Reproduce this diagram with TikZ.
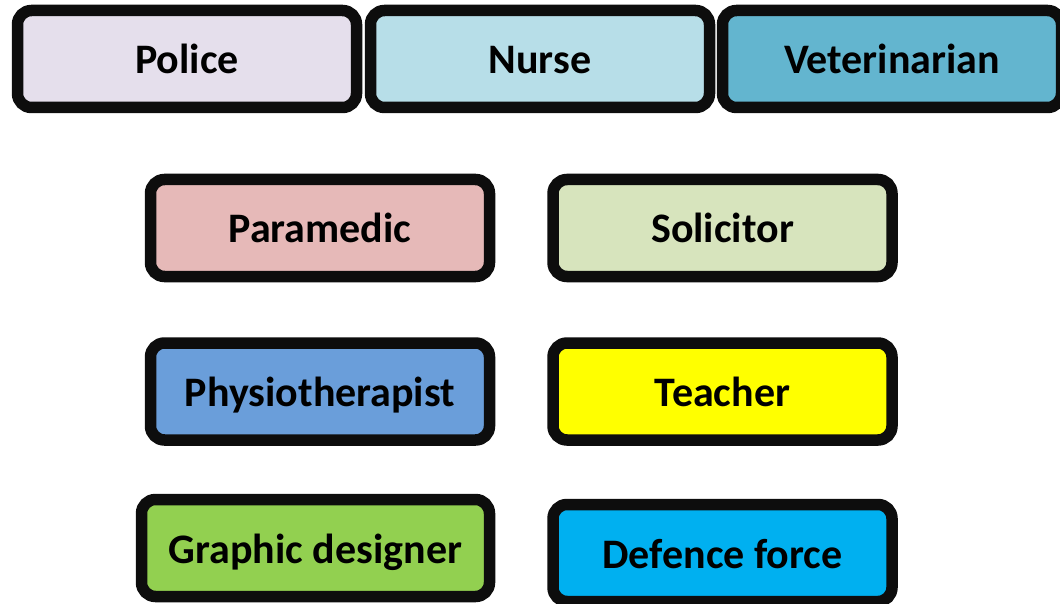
\documentclass[tikz,border=0pt]{standalone}
\usepackage{fontspec}
\setmainfont{Carlito}
\definecolor{cPolice}{HTML}{E5DFEC}
\definecolor{cNurse}{HTML}{B7DEE8}
\definecolor{cVet}{HTML}{63B5CF}
\definecolor{cPara}{HTML}{E6B9B8}
\definecolor{cSol}{HTML}{D7E4BD}
\definecolor{cPhys}{HTML}{6A9EDA}
\definecolor{cTeach}{HTML}{FFFF00}
\definecolor{cGraph}{HTML}{92D050}
\definecolor{cDef}{HTML}{00B0F0}
\definecolor{cEdge}{HTML}{0D0D0D}
\begin{document}
\begin{tikzpicture}[x=1pt,y=-1pt,
  job/.style={draw=cEdge, line width=11.5pt, rounded corners=14pt,
    minimum width=339pt, minimum height=97pt, inner sep=0pt,
    text height=30pt, text depth=0pt,
    font=\fontsize{42}{50}\selectfont\bfseries, text=black}]
\useasboundingbox (0,0) rectangle (1060,604);
\clip (0,0) rectangle (1060,604);
\node[job, fill=cPolice] (police) at (187,59) {Police};
\node[job, fill=cNurse] (nurse) at (540,59) {Nurse};
\node[job, fill=cVet] (vet) at (892,59) {Veterinarian};
\node[job, fill=cPara] (para) at (320,228) {Paramedic};
\node[job, fill=cSol] (sol) at (722.5,228) {Solicitor};
\node[job, fill=cPhys] (phys) at (320,391.5) {Physiotherapist};
\node[job, fill=cTeach] (teach) at (722.5,391.5) {Teacher};
\node[job, fill=cGraph, minimum width=348pt] (graph) at (315.5,548) {Graphic designer};
\node[job, fill=cDef] (def) at (722.5,553) {Defence force};
\end{tikzpicture}
\end{document}
